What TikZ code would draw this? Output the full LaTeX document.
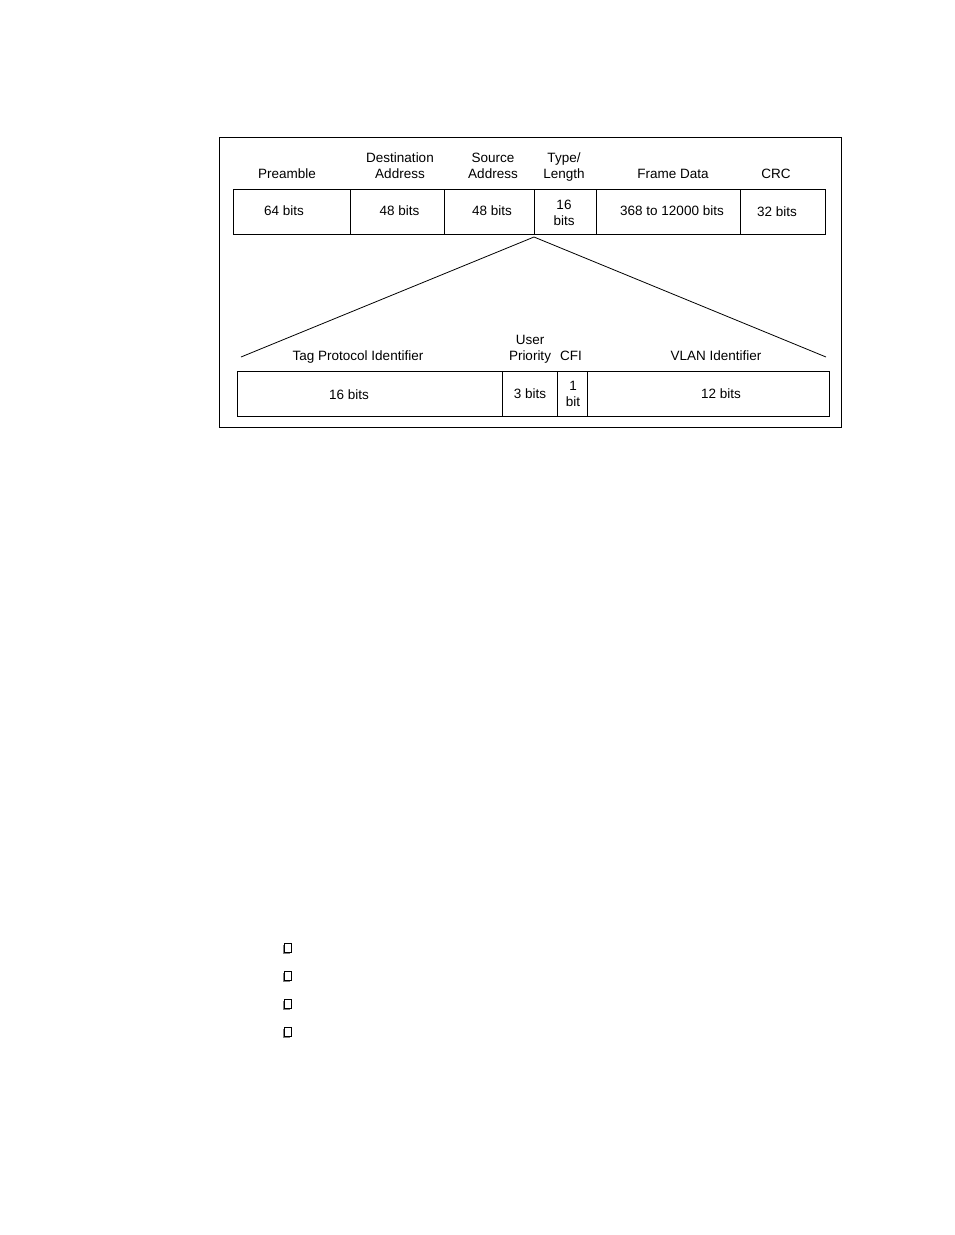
\documentclass[tikz,border=0pt]{standalone}
\usepackage{fontspec}
\setmainfont{Liberation Sans}
\begin{document}
\begin{tikzpicture}[x=1pt,y=-1pt,
  lbl/.style={anchor=base,inner sep=0pt,font=\fontsize{13.5}{16}\selectfont},
  frame/.style={draw=black,line width=1pt},
  cellbox/.style={draw=black,line width=0.9pt},
  wedge/.style={draw=black,line width=0.8pt},
  chk/.style={draw=black,line width=0.9pt},
  chkshadow/.style={draw=gray,line width=1pt}]
\useasboundingbox (0,0) rectangle (954,1235);
\fill[white] (0,0) rectangle (954,1235);
% outer frame
\draw[frame] (219,137) rectangle (841,427);
% top row cells
\draw[cellbox] (233,189) rectangle (350,234);
\draw[cellbox] (350,189) rectangle (444,234);
\draw[cellbox] (444,189) rectangle (534,234);
\draw[cellbox] (534,189) rectangle (596,234);
\draw[cellbox] (596,189) rectangle (740,234);
\draw[cellbox] (740,189) rectangle (825,234);
% top headers
\node[lbl] (hpre) at (287,178) {Preamble};
\node[lbl] (hdst1) at (400,162) {Destination};
\node[lbl] (hdst2) at (400,178) {Address};
\node[lbl] (hsrc1) at (493,162) {Source};
\node[lbl] (hsrc2) at (493,178) {Address};
\node[lbl] (htyp1) at (564,162) {Type/};
\node[lbl] (htyp2) at (564,178) {Length};
\node[lbl] (hfd) at (673,178) {Frame Data};
\node[lbl] (hcrc) at (776,178) {CRC};
% top values
\node[lbl] (vpre) at (284,215) {64 bits};
\node[lbl] (vdst) at (399.5,215) {48 bits};
\node[lbl] (vsrc) at (492,215) {48 bits};
\node[lbl] (vtyp1) at (564,209) {16};
\node[lbl] (vtyp2) at (564,225) {bits};
\node[lbl] (vfd) at (672,215) {368 to 12000 bits};
\node[lbl] (vcrc) at (777,216) {32 bits};
% wedge
\coordinate (apex) at (534,237);
\coordinate (wl) at (241,357);
\coordinate (wr) at (826,357);
\draw[wedge] (wl) -- (apex) -- (wr);
% bottom row cells
\draw[cellbox] (237,371) rectangle (502,416);
\draw[cellbox] (502,371) rectangle (557,416);
\draw[cellbox] (557,371) rectangle (587,416);
\draw[cellbox] (587,371) rectangle (829,416);
% bottom headers
\node[lbl] (htpi) at (358,360) {Tag Protocol Identifier};
\node[lbl] (hup1) at (530,344) {User};
\node[lbl] (hup2) at (530,360) {Priority};
\node[lbl] (hcfi) at (571,360) {CFI};
\node[lbl] (hvid) at (716,360) {VLAN Identifier};
% bottom values
\node[lbl] (vtpi) at (349,399) {16 bits};
\node[lbl] (vup) at (530,398) {3 bits};
\node[lbl] (vcfi1) at (573,390) {1};
\node[lbl] (vcfi2) at (573,406) {bit};
\node[lbl] (vvid) at (721,398) {12 bits};
% check boxes
\foreach \yy in {948,976,1004,1032}{
  \draw[chkshadow] (283,\yy-3) -- (283,\yy+5) -- (290,\yy+5);
  \draw[chk] (284.5,\yy-4.5) rectangle (291.5,\yy+4);
}
\end{tikzpicture}
\end{document}
